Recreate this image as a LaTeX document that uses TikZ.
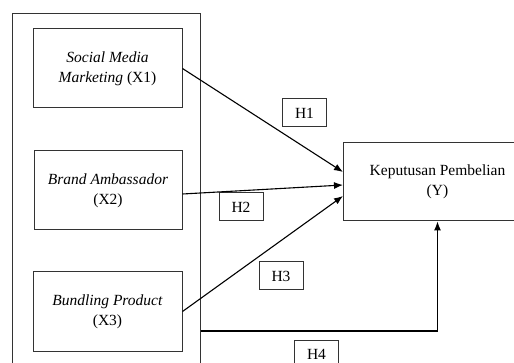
\documentclass[tikz,border=0pt]{standalone}
\usepackage{fontspec}
\setmainfont{Liberation Serif}
\usetikzlibrary{arrows.meta}

\begin{document}
\begin{tikzpicture}[x=1pt,y=1pt,yscale=-1,
  varbox/.style={draw=black!80,line width=1pt,align=center,inner sep=0pt,font=\fontsize{15.5}{20}\selectfont},
  hbox/.style={draw=black!80,line width=1pt,minimum width=44pt,minimum height=28pt,inner sep=0pt,font=\fontsize{15.5}{17}\selectfont},
  conn/.style={draw,line width=1.1pt,-{Latex[length=9pt,width=7pt]}}]
\useasboundingbox (0,0) rectangle (514,363);
\clip (0,0) rectangle (514,363);

% outer frame round the variables
\node[draw=black!80,line width=1pt,minimum width=188pt,minimum height=366pt,inner sep=0pt] (frame) at (106,197) {};

% independent variables
\node[varbox,minimum width=149pt,minimum height=79pt] (X1) at (107.5,68.5) {\textit{Social Media}\\\textit{Marketing} (X1)};
\node[varbox,minimum width=148pt,minimum height=79pt] (X2) at (108,190.5) {\textit{Brand Ambassador}\\(X2)};
\node[varbox,minimum width=149pt,minimum height=79pt] (X3) at (107.5,311.5) {\textit{Bundling Product}\\(X3)};

% dependent variable
\node[varbox,minimum width=189pt,minimum height=78pt] (Y) at (437.5,182) {Keputusan Pembelian\\(Y)};

% hypothesis labels
\node[hbox] (H1) at (304.5,113) {H1};
\node[hbox] (H2) at (241,207) {H2};
\node[hbox] (H3) at (281,276) {H3};
\node[hbox] (H4) at (316.5,354) {H4};

% end points on Y
\coordinate (y1) at (343,172);
\coordinate (y2) at (343,185);
\coordinate (y3) at (343,196);
\coordinate (h4a) at (frame.east |- 0,331);

% paths
\draw[conn] (X1.east) -- (y1);
\draw[conn] ([yshift=3.5pt]X2.east) -- (y2);
\draw[conn] (X3.east) -- (y3);
\draw[conn] (h4a) -| (Y.south);
\end{tikzpicture}
\end{document}
